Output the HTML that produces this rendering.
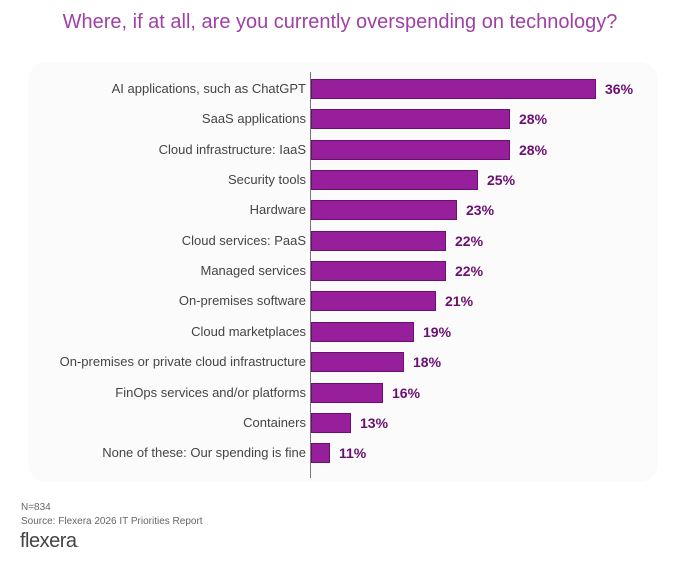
<!DOCTYPE html>
<html><head><style>
body{margin:0;width:680px;height:572px;background:#fff;font-family:"Liberation Sans",sans-serif;position:relative;overflow:hidden}
.t{position:absolute;top:11px;left:0;width:680px;text-align:center;color:#a040a6;font-size:20px}
.panel{position:absolute;left:28px;top:62px;width:630px;height:420px;background:#fbfbfc;border-radius:18px}
.ax{position:absolute;left:310px;top:72px;width:1px;height:406px;background:#777}
.l{position:absolute;right:374px;font-size:13px;color:#444;white-space:nowrap;line-height:16px}
.b{position:absolute;left:311px;height:20px;background:#981f9c;border:1px solid #6a1070;box-sizing:border-box}
.v{position:absolute;font-size:14px;font-weight:bold;color:#6b0f70;line-height:16px}
.f{position:absolute;left:21px;font-size:10px;color:#666}
</style></head><body>
<div class="t">Where, if at all, are you currently overspending on technology?</div>
<div class="panel"></div>
<div class="ax"></div>
<div id="c"></div>
<div class="f" style="top:502px">N=834</div>
<div class="f" style="top:516px">Source: Flexera 2026 IT Priorities Report</div>
<div style="position:absolute;left:20px;top:530px;font-size:20px;color:#444;letter-spacing:-0.5px">flexera<span style="font-size:10px">.</span></div>
<script>
var d=[["AI applications, such as ChatGPT",36,596],["SaaS applications",28,510],["Cloud infrastructure: IaaS",28,510],["Security tools",25,478],["Hardware",23,457],["Cloud services: PaaS",22,446],["Managed services",22,446],["On-premises software",21,436],["Cloud marketplaces",19,414],["On-premises or private cloud infrastructure",18,404],["FinOps services and/or platforms",16,383],["Containers",13,351],["None of these: Our spending is fine",11,330]];
var h="";d.forEach(function(r,i){var y=89+i*30.35;
h+='<div class="l" style="top:'+(y-8)+'px">'+r[0]+'</div><div class="b" style="top:'+(y-10)+'px;width:'+(r[2]-311)+'px"></div><div class="v" style="left:'+(r[2]+9)+'px;top:'+(y-8)+'px">'+r[1]+'%</div>';});
document.getElementById("c").innerHTML=h;
</script>
</body></html>
